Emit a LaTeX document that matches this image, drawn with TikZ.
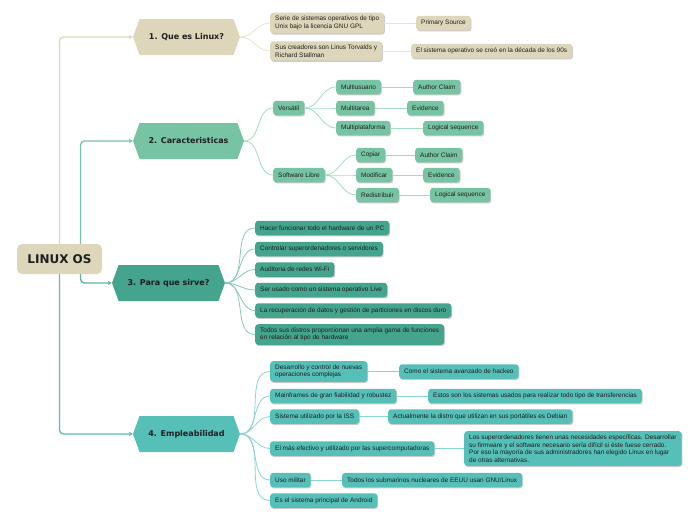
\documentclass[tikz,border=0pt]{standalone}
\usepackage{fontspec}
\setmainfont{Liberation Sans}
\newfontfamily\titlefont{DejaVu Sans}
\usetikzlibrary{shapes.symbols,shadows,arrows.meta}
\definecolor{sand}{HTML}{DDD6BA}
\definecolor{sandline}{HTML}{E8E2CF}
\definecolor{mint}{HTML}{77C4A4}
\definecolor{mintline}{HTML}{A3DAC4}
\definecolor{jade}{HTML}{45A48E}
\definecolor{jadeline}{HTML}{86C9B9}
\definecolor{aqua}{HTML}{55BFB8}
\definecolor{aqualine}{HTML}{8AD5CF}
\definecolor{ink}{HTML}{1E1E1E}

\begin{document}
\begin{tikzpicture}[x=1pt, y=-1pt,
        root/.style={rectangle, rounded corners=5pt, fill=sand, minimum width=85pt, minimum height=30pt, font=\titlefont\bfseries\fontsize{12}{14}\selectfont, text=ink},
        topic/.style={shape=signal, signal to=east and west, signal pointer angle=140, minimum height=36pt, inner sep=0pt, font=\titlefont\bfseries\fontsize{8}{10}\selectfont, text=ink},
        leaf/.style={rectangle, rounded corners=3pt, anchor=west, align=left, inner xsep=5pt, inner ysep=3.5pt, minimum height=14.5pt, font=\fontsize{6.45}{7.6}\selectfont, text=ink, drop shadow={shadow xshift=0.8pt, shadow yshift=-1.2pt, fill=black!60, opacity=0.35}},
        feed/.style={line width=1.3pt, rounded corners=4pt, -{Stealth[length=4pt, width=4.5pt]}},
        link/.style={line width=0.8pt},
        fan/.style={link, out=0, in=180}
    ]
        \useasboundingbox (0,0) rectangle (696,520);

        % Root and topics
        \node[root] (root) at (59.5,259) {LINUX OS};
        \node[topic, fill=sand, minimum width=107pt] (t1) at (186.5,37) {1. Que es Linux?};
        \node[topic, fill=mint, minimum width=111pt] (t2) at (188.5,141) {2. Caracteristicas};
        \node[topic, fill=jade, minimum width=113pt] (t3) at (168.5,283) {3. Para que sirve?};
        \node[topic, fill=aqua, minimum width=107pt] (t4) at (186.5,434) {4. Empleabilidad};

        \draw[feed, sand] (root.north) |- (t1.west);
        \draw[feed, mint] ([xshift=21pt]root.north) |- (t2.west);
        \draw[feed, jade!85] ([xshift=21pt]root.south) |- (t3.west);
        \draw[feed, aqua] (root.south) |- (t4.west);

        % 1. Que es Linux?
        \node[leaf, fill=sand] (serie) at (270,23) {Serie de sistemas operativos de tipo\\Unix bajo la licencia GNU GPL};
        \node[leaf, fill=sand] (source) at (416,23) {Primary Source};
        \node[leaf, fill=sand] (creadores) at (270,51) {Sus creadores son Linus Torvalds y\\Richard Stallman};
        \node[leaf, fill=sand] (decada) at (411,51) {El sistema operativo se creó en la década de los 90s};

        \draw[fan, sandline] (t1.east) to (serie.west);
        \draw[fan, sandline] (t1.east) to (creadores.west);
        \draw[link, sandline] (serie) -- (source);
        \draw[link, sandline] (creadores) -- (decada);

        % 2. Caracteristicas
        \node[leaf, fill=mint] (versatil) at (273,108) {Versátil};
        \node[leaf, fill=mint] (multiusuario) at (336,87) {Multiusuario};
        \node[leaf, fill=mint] (claimA) at (413,87) {Author Claim};
        \node[leaf, fill=mint] (multitarea) at (336,108) {Multitarea};
        \node[leaf, fill=mint] (evidenceA) at (407,108) {Evidence};
        \node[leaf, fill=mint] (multiplat) at (336,128) {Multiplataforma};
        \node[leaf, fill=mint] (logicA) at (423,128) {Logical sequence};
        \node[leaf, fill=mint] (libre) at (273,175) {Software Libre};
        \node[leaf, fill=mint] (copiar) at (356,155) {Copiar};
        \node[leaf, fill=mint] (claimB) at (415,155) {Author Claim};
        \node[leaf, fill=mint] (modificar) at (356,175) {Modificar};
        \node[leaf, fill=mint] (evidenceB) at (423,175) {Evidence};
        \node[leaf, fill=mint] (redistribuir) at (356,195) {Redistribuir};
        \node[leaf, fill=mint] (logicB) at (430,195) {Logical sequence};

        \draw[fan, mintline] (t2.east) to (versatil.west);
        \draw[fan, mintline] (t2.east) to (libre.west);
        \foreach \kid/\leaf in {multiusuario/claimA, multitarea/evidenceA, multiplat/logicA} {
            \draw[fan, mintline] (versatil.east) to (\kid.west);
            \draw[link, mintline] (\kid) -- (\leaf);
        }
        \foreach \kid/\leaf in {copiar/claimB, modificar/evidenceB, redistribuir/logicB} {
            \draw[fan, mintline] (libre.east) to (\kid.west);
            \draw[link, mintline] (\kid) -- (\leaf);
        }

        % 3. Para que sirve?
        \node[leaf, fill=jade] (hacer) at (255,228) {Hacer funcionar todo el hardware de un PC};
        \node[leaf, fill=jade] (controlar) at (255,249) {Controlar superordenadores o servidores};
        \node[leaf, fill=jade] (auditoria) at (255,269.5) {Auditoria de redes Wi-Fi};
        \node[leaf, fill=jade] (live) at (255,290) {Ser usado como un sistema operativo Live};
        \node[leaf, fill=jade] (particiones) at (255,310.5) {La recuperación de datos y gestión de particiones en discos duro};
        \node[leaf, fill=jade] (distros) at (255,334.5) {Todos sus distros proporcionan una amplia gama de funciones\\en relación al tipo de hardware};

        \foreach \kid in {hacer, controlar, auditoria, live, particiones, distros}
            \draw[fan, jadeline] (t3.east) to (\kid.west);

        % 4. Empleabilidad
        \node[leaf, fill=aqua] (desarrollo) at (270,371.5) {Desarrollo y control de nuevas\\operaciones complejas};
        \node[leaf, fill=aqua] (hackeo) at (399,371.5) {Como el sistema avanzado de hackeo};
        \node[leaf, fill=aqua] (mainframes) at (270,396) {Mainframes de gran fiabilidad y robustez};
        \node[leaf, fill=aqua] (transfer) at (428,396) {Estos son los sistemas usados para realizar todo tipo de transferencias};
        \node[leaf, fill=aqua] (iss) at (270,416.5) {Sistema utilizado por la ISS};
        \node[leaf, fill=aqua] (debian) at (388,416.5) {Actualmente la distro que utilizan en sus portátiles es Debian};
        \node[leaf, fill=aqua] (super) at (270,448.5) {El más efectivo y utilizado por las supercomputadoras};
        \node[leaf, fill=aqua] (necesidades) at (464,448.5) {Los superordenadores tienen unas necesidades específicas. Desarrollar\\su firmware y el software necesario sería difícil si éste fuese cerrado.\\Por eso la mayoría de sus administradores han elegido Linux en lugar\\de otras alternativas.};
        \node[leaf, fill=aqua] (militar) at (270,480) {Uso militar};
        \node[leaf, fill=aqua] (submarinos) at (342,480) {Todos los submarinos nucleares de EEUU usan GNU/Linux};
        \node[leaf, fill=aqua] (android) at (270,500.5) {Es el sistema principal de Android};

        \foreach \kid/\leaf in {desarrollo/hackeo, mainframes/transfer, iss/debian, super/necesidades, militar/submarinos} {
            \draw[fan, aqualine] (t4.east) to (\kid.west);
            \draw[link, aqualine] (\kid) -- (\leaf);
        }
        \draw[fan, aqualine] (t4.east) to (android.west);
    \end{tikzpicture}
\end{document}
